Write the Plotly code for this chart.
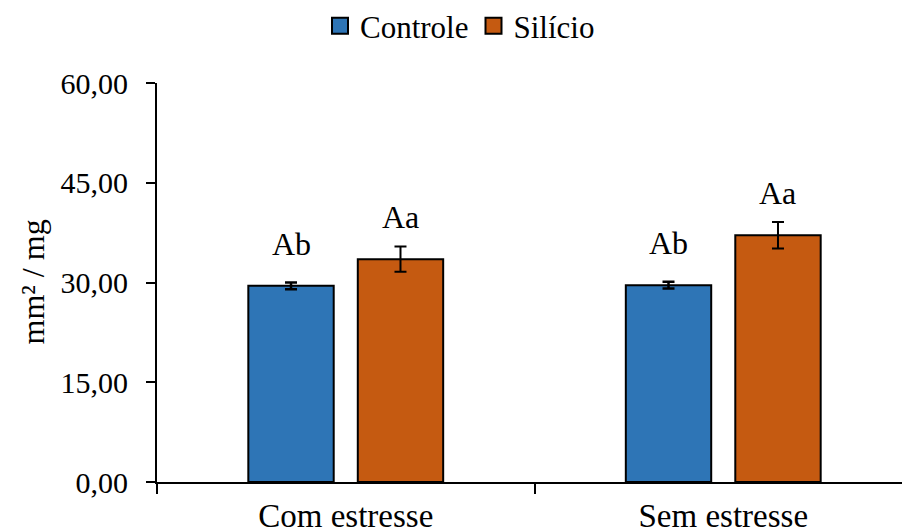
import plotly.graph_objects as go

categories = ["Com estresse", "Sem estresse"]
controle = [29.5, 29.6]
controle_err = [0.5, 0.5]
silicio = [33.5, 37.1]
silicio_err = [1.9, 2.0]
labels_controle = ["Ab", "Ab"]
labels_silicio = ["Aa", "Aa"]
y_ticks = [0, 15, 30, 45, 60]

BLUE = "#2E75B6"
ORANGE = "#C55A11"
FONT = "Liberation Serif, Times New Roman, serif"
BARGAP = 0.42
BARGROUPGAP = 0.22

fig = go.Figure()
fig.add_trace(go.Bar(
    x=categories, y=controle, name="Controle", showlegend=False,
    marker=dict(color=BLUE, line=dict(color="black", width=2)),
    error_y=dict(type="data", array=controle_err, color="black", thickness=2.5, width=6),
))
fig.add_trace(go.Bar(
    x=categories, y=silicio, name="Silício", showlegend=False,
    marker=dict(color=ORANGE, line=dict(color="black", width=2)),
    error_y=dict(type="data", array=silicio_err, color="black", thickness=2, width=6),
))
# legend proxies with larger square swatches
for nm, col in [("Controle", BLUE), ("Silício", ORANGE)]:
    fig.add_trace(go.Scatter(
        x=[None], y=[None], mode="markers", name=nm,
        marker=dict(symbol="square", size=16, color=col, line=dict(color="black", width=2)),
    ))

off = (1 - BARGAP) / 4
for i in range(len(categories)):
    for dx, val, txt in [(-off, controle[i], labels_controle[i]), (off, silicio[i], labels_silicio[i])]:
        fig.add_annotation(x=i + dx, y=val, text=txt, showarrow=False,
                           xanchor="center", yanchor="bottom", yshift=22,
                           font=dict(family=FONT, size=32, color="black"))

fig.add_annotation(xref="paper", yref="paper", x=(32 - 157) / 745, y=0.5,
                   xanchor="center", yanchor="middle",
                   text="mm² / mg", textangle=-90, showarrow=False,
                   font=dict(family=FONT, size=32, color="black"))

fig.update_layout(
    width=902, height=531,
    margin=dict(l=157, r=0, t=83, b=49, autoexpand=False),
    paper_bgcolor="white", plot_bgcolor="white",
    barmode="group", bargap=BARGAP, bargroupgap=BARGROUPGAP,
    separators=",.",
    font=dict(family=FONT, size=30, color="black"),
    legend=dict(orientation="h", x=(320 - 157) / 745, xanchor="left",
                y=1 - 26 / 531, yref="container", yanchor="middle",
                font=dict(family=FONT, size=31, color="black"),
                itemwidth=30, bgcolor="rgba(0,0,0,0)"),
)
fig.update_xaxes(
    type="category", range=[-0.5, -0.5 + 745 / 377.5],
    showline=True, linecolor="black", linewidth=2,
    ticks="outside", tickson="boundaries", ticklen=10, tickwidth=2, tickcolor="black",
    showgrid=False, zeroline=False, ticklabelstandoff=3,
    tickfont=dict(family=FONT, size=33, color="black"),
)
fig.update_yaxes(
    range=[0, 60], tickvals=y_ticks, tickformat=".2f",
    showline=True, linecolor="black", linewidth=2,
    ticks="outside", ticklen=9, tickwidth=2, tickcolor="black",
    showgrid=False, zeroline=False, ticklabelstandoff=12,
    tickfont=dict(family=FONT, size=30, color="black"),
)

fig.write_html("out.html", config={"displayModeBar": False},
               post_script="document.body.style.margin='0';document.body.style.overflow='hidden';")
